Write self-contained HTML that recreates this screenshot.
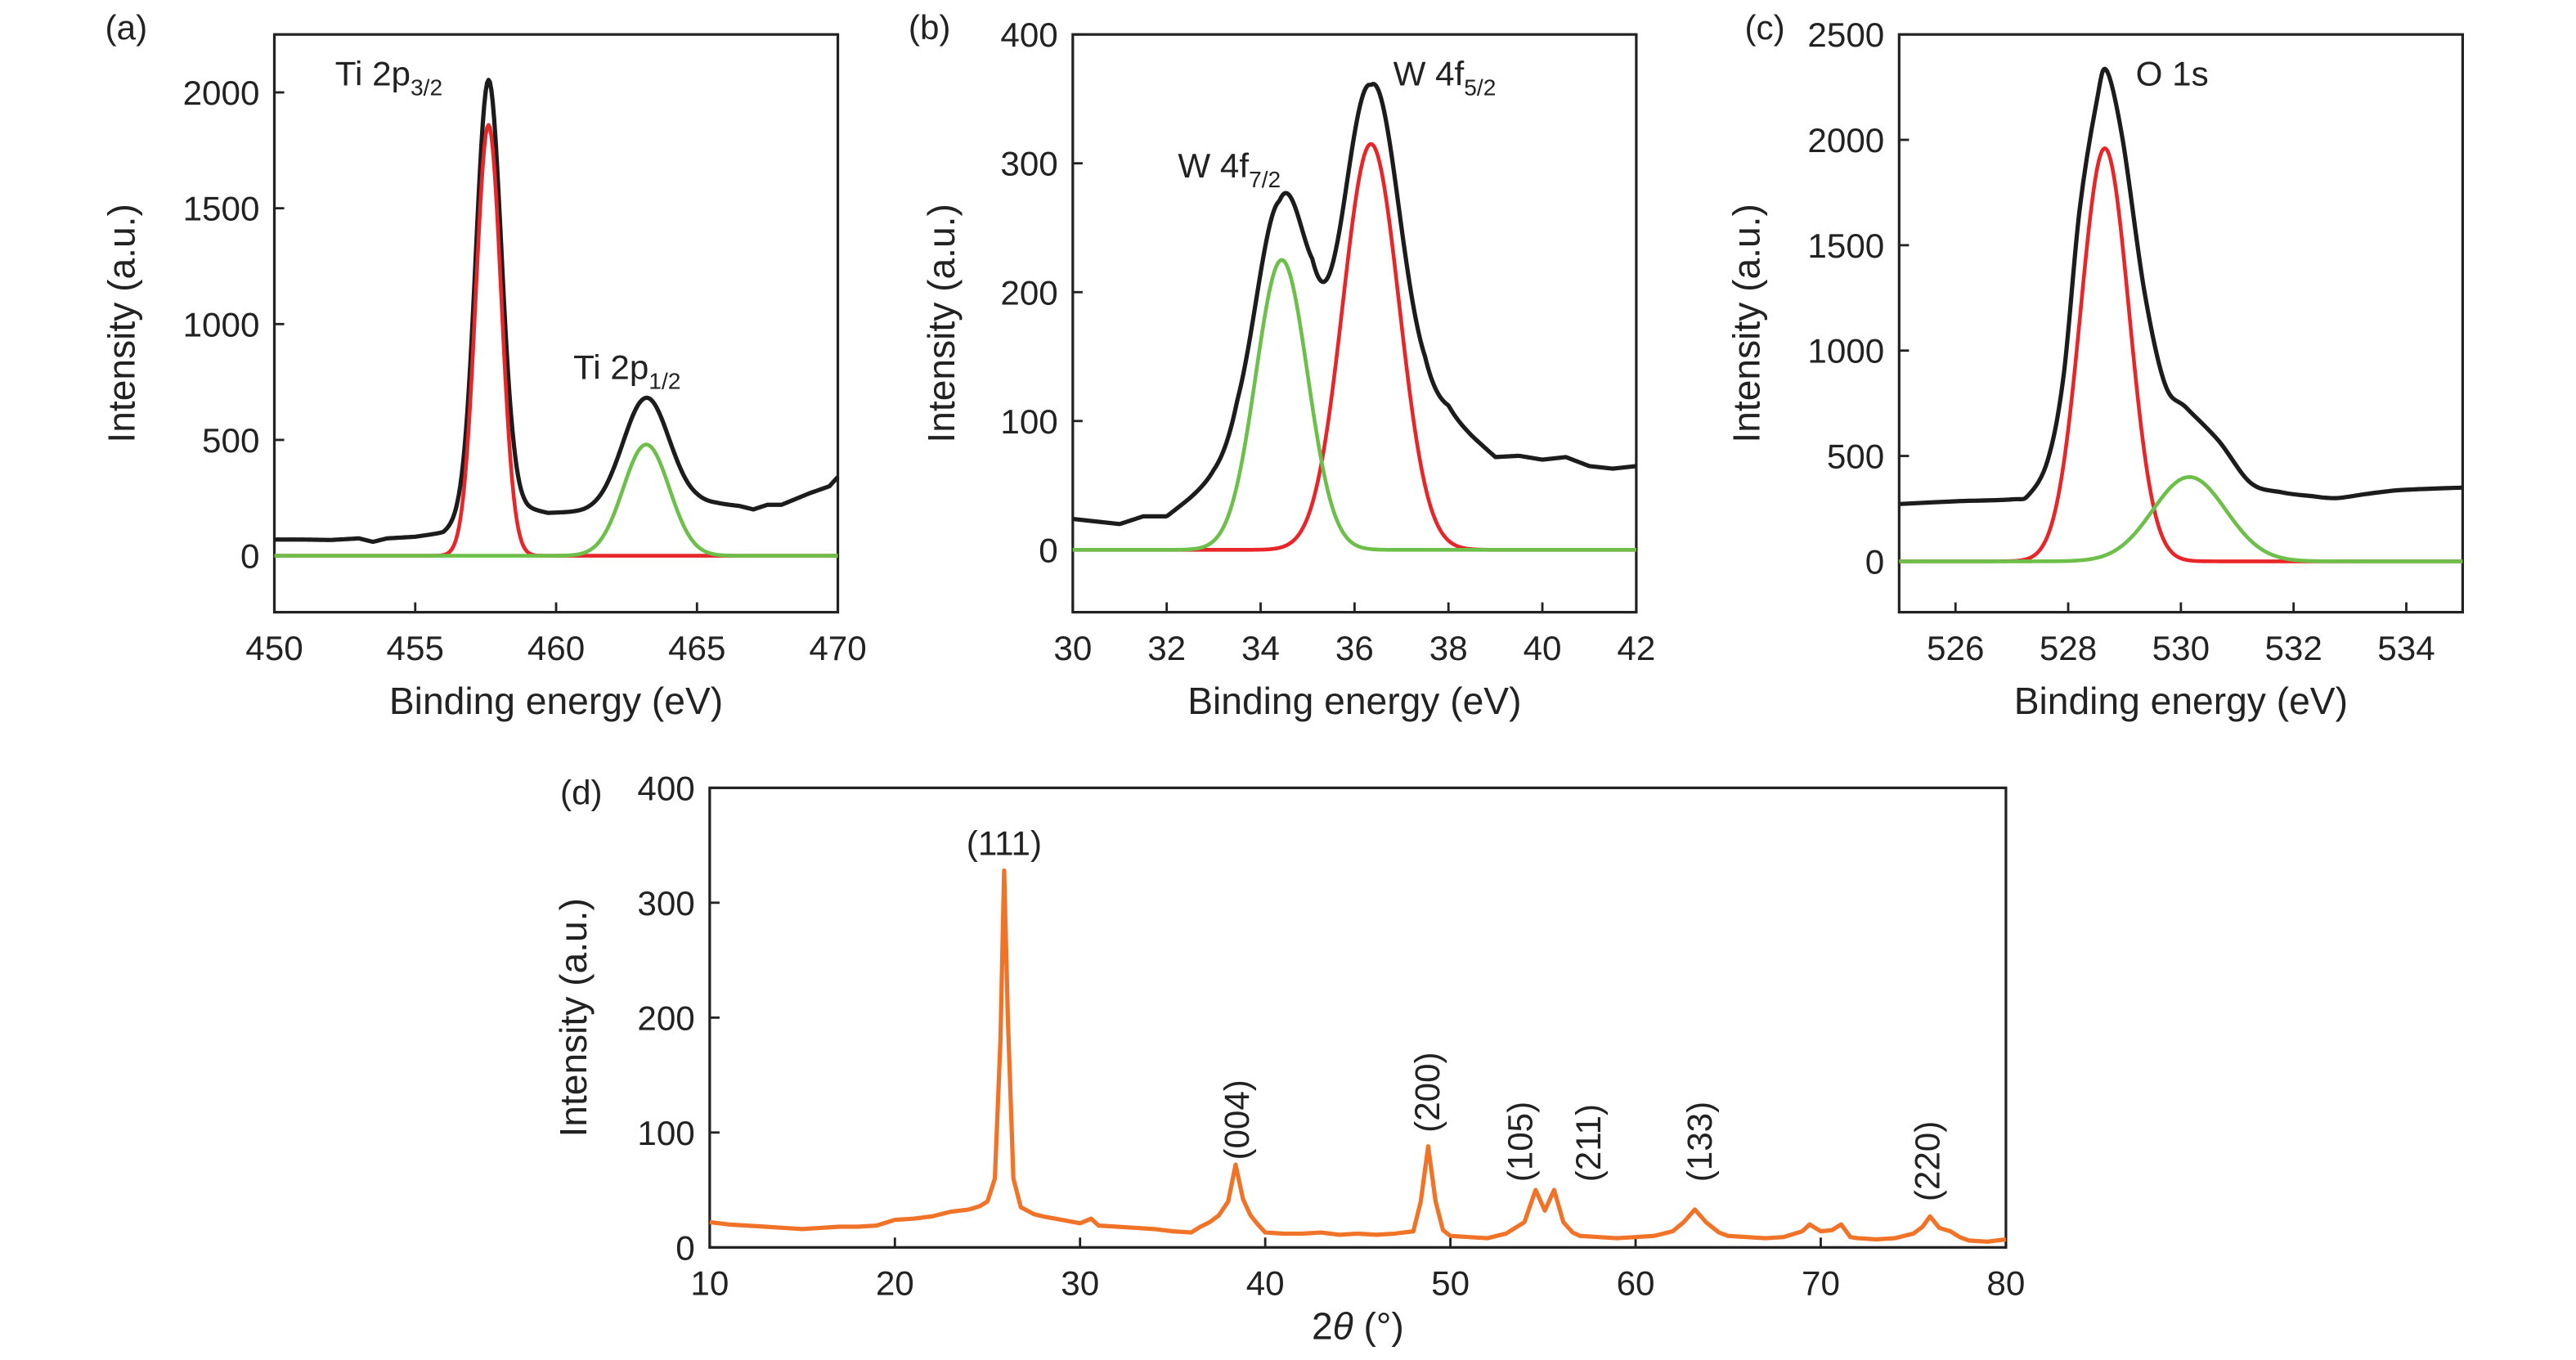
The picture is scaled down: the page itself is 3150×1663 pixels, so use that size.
<!DOCTYPE html>
<html><head><meta charset="utf-8"><style>
html,body{margin:0;padding:0;background:#fff}
svg{display:block}
text{font-family:"Liberation Sans",sans-serif;fill:#222}
</style></head><body>
<svg id="fig" width="3150" height="1663" viewBox="0 0 1568 828.6" preserveAspectRatio="none" xmlns="http://www.w3.org/2000/svg"></svg>
<script>
// ---- Panel (a) Ti 2p data ----
const aPeakCenters=[457.6,463.2];
const aPeakHeights=[1860,480];
const aPeakWidths=[0.45,0.82];
const aBgX=[450,451,452,453,453.5,454,455,456,456.5,457.5,458.5,459,459.7,461,462,463,464,465,465.7,466.5,467,467.5,468,468.5,469,469.7,470];
const aBgY=[70,70,68,75,60,75,82,100,140,190,230,205,185,190,200,200,210,225,225,215,200,220,220,245,270,300,340];
const aYTicks=[0,500,1000,1500,2000];
const aXTicks=[450,455,460,465,470];
// ---- Panel (b) W 4f data ----
const bPeakCenters=[36.35,34.45];
const bPeakHeights=[315,225];
const bPeakWidths=[0.6,0.55];
const bBgX=[30,30.5,31,31.5,32,32.5,33,33.5,34.4,35.1,35.7,36.35,37,37.5,38,38.5,39,39.5,40,40.5,41,41.5,42];
const bBgY=[24,22,20,26,26,40,55,65,45,78,60,45,75,100,105,88,72,73,70,72,65,63,65];
const bYTicks=[0,100,200,300,400];
const bXTicks=[30,32,34,36,38,40,42];
// ---- Panel (c) O 1s data ----
const cPeakCenters=[528.65,530.15];
const cPeakHeights=[1960,400];
const cPeakWidths=[0.43,0.65];
const cBlackX=[525,526,527,527.3,527.64,527.92,528.2,528.5,528.68,528.97,529.35,529.72,530.1,530.67,531.24,531.8,532.3,532.76,533.3,533.9,535];
const cBlackY=[272,285,294,316,483,884,1662,2174,2330,1996,1284,839,728,572,372,327,310,300,320,338,350];
const cYTicks=[0,500,1000,1500,2000,2500];
const cXTicks=[526,528,530,532,534];
// ---- Panel (d) XRD data ----
const dX=[10,11,12,13,14,15,16,17,18,19,20,21,22,23,24,24.6,25,25.4,25.7,25.9,26.1,26.4,26.8,27.5,28,29,30,30.6,31,32,33,34,35,36,36.5,37,37.5,38,38.4,38.8,39.2,39.6,40,41,42,43,44,45,46,47,48,48.4,48.8,49.2,49.6,50,51,52,53,54,54.6,55.1,55.6,56.1,56.6,57,58,59,60,61,62,62.6,63.2,63.8,64.5,65,66,67,68,69,69.4,70,70.6,71.1,71.6,72,73,74,75,75.5,75.9,76.4,77,77.5,78,79,80];
const dY=[22,20,19,18,17,16,17,18,18,19,24,25,27,31,33,36,40,60,180,328,200,60,35,29,27,24,21,25,19,18,17,16,14,13,18,22,28,40,72,42,28,20,13,12,12,13,11,12,11,12,14,40,88,40,15,10,9,8,12,22,50,32,50,22,13,10,9,8,9,10,14,22,33,22,13,10,9,8,9,14,20,14,15,20,9,8,7,8,12,18,27,17,14,9,6,5,7];
const dYTicks=[0,100,200,300,400];
const dXTicks=[10,20,30,40,50,60,70,80];
const dLabels=["(004)","(200)","(105)","(211)","(133)","(220)"];
const dLabelX=[38.4,48.7,53.7,57.4,63.4,75.7];
const dLabelY=[76,100,57,57,57,40];

const NS="http://www.w3.org/2000/svg";
const svg=document.getElementById('fig');
function el(tag,attrs,parent){const e=document.createElementNS(NS,tag);for(const k in attrs)e.setAttribute(k,attrs[k]);(parent||svg).appendChild(e);return e;}
function interp(xs,ys,x){if(x<=xs[0])return ys[0];for(let i=1;i<xs.length;i++){if(x<=xs[i]){const t=(x-xs[i-1])/(xs[i]-xs[i-1]);return ys[i-1]+t*(ys[i]-ys[i-1]);}}return ys[ys.length-1];}
function gauss(c,h,w,x){return h*Math.exp(-(x-c)*(x-c)/(2*w*w));}

function panel(p){
  const g=el('g',{});
  
  
  const sx=v=>p.x0+(v-p.xmin)/(p.xmax-p.xmin)*(p.x1-p.x0);
  const sy=v=>p.yZero-(v)*p.ppu;
  const fr=el('rect',{x:p.x0,y:p.y0,width:p.x1-p.x0,height:p.y1-p.y0,fill:'none',stroke:'#222','stroke-width':1.6},g);
  
  
  p.yt.forEach(v=>{
    const t=el('line',{x1:p.x0,x2:p.x0+6,y1:sy(v),y2:sy(v),stroke:'#222','stroke-width':1.4},g);
    
    
    const l=el('text',{x:p.x0-9,y:sy(v)+7.5,'text-anchor':'end','font-size':21},g);
    l.textContent=v;
    
    
  });
  p.xt.forEach(v=>{
    const t=el('line',{x1:sx(v),x2:sx(v),y1:p.y1,y2:p.y1-6,stroke:'#222','stroke-width':1.4},g);
    
    
    const l=el('text',{x:sx(v),y:p.y1+29,'text-anchor':'middle','font-size':21},g);
    l.textContent=v;
    
    
  });
  const xt=el('text',{x:(p.x0+p.x1)/2,y:p.y1+p.xtDist,'text-anchor':'middle','font-size':23},g);
  xt.innerHTML=p.xtitle;
  
  
  const yc=(p.y0+p.y1)/2;
  const yt=el('text',{x:0,y:0,transform:`translate(${p.x0-p.ytDist},${yc}) rotate(-90)`,'text-anchor':'middle','font-size':23},g);
  yt.textContent='Intensity (a.u.)';
  
  
  const pl=el('text',{x:p.lx,y:p.ly,'font-size':21},g);
  pl.textContent=p.label;
  
  
  return {g,sx,sy};
}
function path(g,pts,color,w,name){
  const d=pts.map((q,i)=>(i?'L':'M')+q[0].toFixed(2)+','+q[1].toFixed(2)).join('');
  const e=el('path',{d:d,fill:'none',stroke:color,'stroke-width':w,'stroke-linejoin':'round'},g);
  
  
}
function smoothPath(g,pts,color,w,name){
  let d='M'+pts[0][0].toFixed(2)+','+pts[0][1].toFixed(2);
  for(let i=0;i<pts.length-1;i++){
    const p0=pts[Math.max(0,i-1)],p1=pts[i],p2=pts[i+1],p3=pts[Math.min(pts.length-1,i+2)];
    const c1=[p1[0]+(p2[0]-p0[0])/6,p1[1]+(p2[1]-p0[1])/6];
    const c2=[p2[0]-(p3[0]-p1[0])/6,p2[1]-(p3[1]-p1[1])/6];
    d+='C'+c1.map(v=>v.toFixed(2)).join(',')+' '+c2.map(v=>v.toFixed(2)).join(',')+' '+p2[0].toFixed(2)+','+p2[1].toFixed(2);
  }
  const e=el('path',{d:d,fill:'none',stroke:color,'stroke-width':w,'stroke-linejoin':'round'},g);
  
  
}
function xps(p,centers,heights,widths,bgx,bgy,compNames,blackX,blackY){
  const P=panel(p);
  const N=400;const colors=['#e8262a','#6cc04a'];
  const black=[];
  if(blackX){blackX.forEach((x,i)=>black.push([P.sx(x),P.sy(blackY[i])]));smoothPath(P.g,black,'#1c1c1c',2.6,'envelope-curve');}
  else{
    for(let i=0;i<=N;i++){const x=p.xmin+(p.xmax-p.xmin)*i/N;let s=interp(bgx,bgy,x);centers.forEach((c,k)=>s+=gauss(c,heights[k],widths[k],x));black.push([P.sx(x),P.sy(s)]);}
    path(P.g,black,'#1c1c1c',2.6,'envelope-curve');
  }
  centers.forEach((c,k)=>{
    const pts=[];for(let i=0;i<=N;i++){const x=p.xmin+(p.xmax-p.xmin)*i/N;pts.push([P.sx(x),P.sy(gauss(c,heights[k],widths[k],x))]);}
    path(P.g,pts,colors[k],2.3,compNames[k]);
  });
  return P;
}
function ann(g,x,y,main,sub,name){
  const t=el('text',{x:x,y:y,'font-size':21},g);
  t.innerHTML=main+'<tspan font-size="14" dy="6">'+sub+'</tspan>';
  
  
}
// (a)
const A=xps({name:'panel-a-ti2p',x0:167,x1:510,y0:21,y1:373,xmin:450,xmax:470,yZero:338.6,ppu:(338.6-56.3)/2000,yt:aYTicks,xt:aXTicks,xtitle:'Binding energy (eV)',xtDist:62,ytDist:85,label:'(a)',lx:64,ly:24},aPeakCenters,aPeakHeights,aPeakWidths,aBgX,aBgY,['ti-2p3-fit-red','ti-2p1-fit-green']);
ann(A.g,204,52,'Ti 2p','3/2','label-ti-2p32');
ann(A.g,349,231,'Ti 2p','1/2','label-ti-2p12');
// (b)
const B=xps({name:'panel-b-w4f',x0:653,x1:996,y0:21,y1:373,xmin:30,xmax:42,yZero:335,ppu:(335-21)/400,yt:bYTicks,xt:bXTicks,xtitle:'Binding energy (eV)',xtDist:62,ytDist:72,label:'(b)',lx:553,ly:24},bPeakCenters,bPeakHeights,bPeakWidths,bBgX,bBgY,['w-4f52-fit-red','w-4f72-fit-green']);
ann(B.g,717,108,'W 4f','7/2','label-w-4f72');
ann(B.g,848,52,'W 4f','5/2','label-w-4f52');
// (c)
const C=xps({name:'panel-c-o1s',x0:1156,x1:1499,y0:21,y1:373,xmin:525,xmax:535,yZero:342,ppu:(342-21)/2500,yt:cYTicks,xt:cXTicks,xtitle:'Binding energy (eV)',xtDist:62,ytDist:85,label:'(c)',lx:1062,ly:24},cPeakCenters,cPeakHeights,cPeakWidths,null,null,['o1s-lattice-fit-red','o1s-oh-fit-green'],cBlackX,cBlackY);
const ol=el('text',{x:1300,y:52,'font-size':21},C.g);ol.textContent='O 1s';


// (d)
const D=panel({name:'panel-d-xrd',x0:432,x1:1221,y0:480,y1:760,xmin:10,xmax:80,yZero:760,ppu:280/400,yt:dYTicks,xt:dXTicks,xtitle:'2<tspan font-style="italic">θ</tspan> (°)',xtDist:56,ytDist:75,label:'(d)',lx:341,ly:490});
path(D.g,dX.map((x,i)=>[D.sx(x),D.sy(dY[i])]),'#f07328',2.6,'xrd-pattern');
const t111=el('text',{x:D.sx(25.9),y:521,'text-anchor':'middle','font-size':21},D.g);t111.textContent='(111)';


dLabels.forEach((s,i)=>{
  const t=el('text',{x:0,y:0,transform:`translate(${D.sx(dLabelX[i])+8},${D.sy(dLabelY[i])}) rotate(-90)`,'font-size':21},D.g);
  t.textContent=s;
  
  
});
</script>
</body></html>
